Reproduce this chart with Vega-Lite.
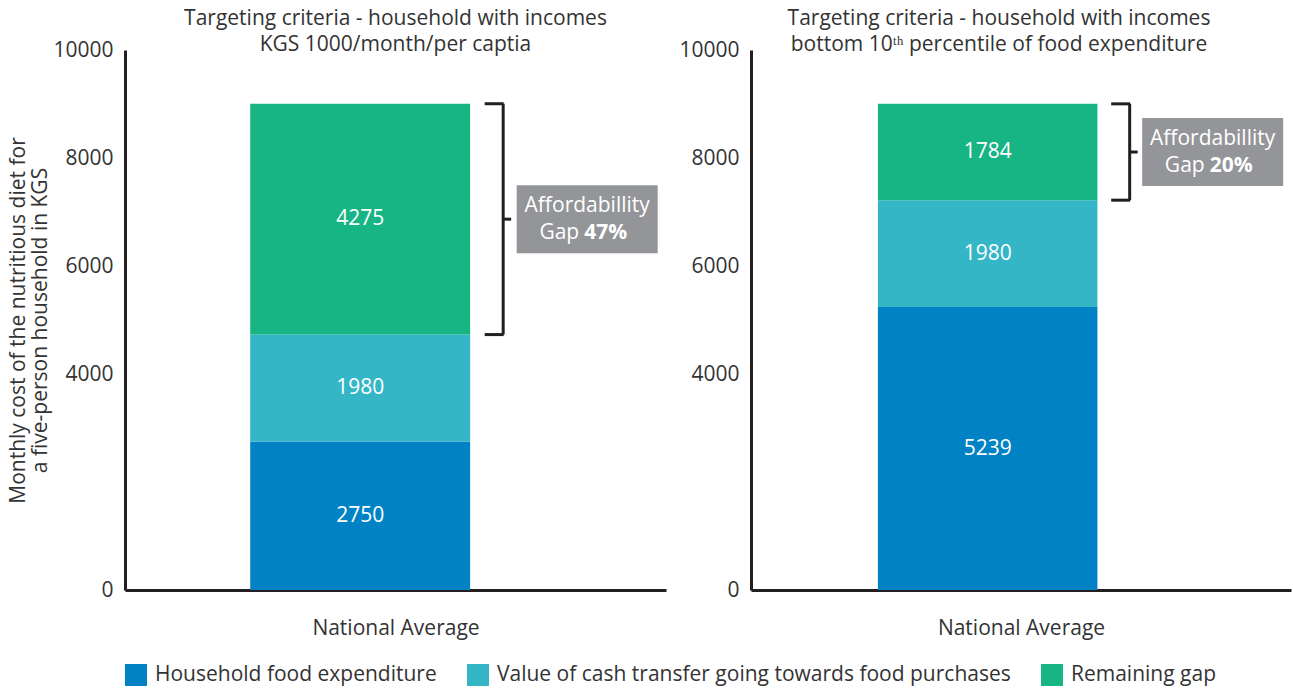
{
  "$schema": "https://vega.github.io/schema/vega-lite/v6.json",
  "padding": {"left": 7, "top": 8, "right": 2, "bottom": 2},
  "background": "white",
  "config": {
    "font": "Open Sans",
    "view": {"stroke": null},
    "axis": {"labelFont": "Open Sans", "titleFont": "Open Sans", "labelColor": "#333333", "titleColor": "#333333", "labelFontSize": 21, "titleFontSize": 21, "titleFontWeight": "normal", "grid": false, "ticks": false, "domainColor": "#231F20", "domainWidth": 3, "format": "d"},
    "title": {"font": "Open Sans", "fontSize": 21, "fontWeight": "normal", "color": "#333333", "lineHeight": 26, "anchor": "middle"},
    "legend": {"labelFont": "Open Sans", "labelFontSize": 21, "labelColor": "#333333", "labelLimit": 0}
  },
  "data": {
    "values": [
      {"panel": "A", "group": "National Average", "category": "Household food expenditure", "ord": 1, "value": 2750, "gap": ""},
      {"panel": "A", "group": "National Average", "category": "Value of cash transfer going towards food purchases", "ord": 2, "value": 1980, "gap": ""},
      {"panel": "A", "group": "National Average", "category": "Remaining gap", "ord": 3, "value": 4275, "gap": "47%"},
      {"panel": "B", "group": "National Average", "category": "Household food expenditure", "ord": 1, "value": 5239, "gap": ""},
      {"panel": "B", "group": "National Average", "category": "Value of cash transfer going towards food purchases", "ord": 2, "value": 1980, "gap": ""},
      {"panel": "B", "group": "National Average", "category": "Remaining gap", "ord": 3, "value": 1784, "gap": "20%"}
    ]
  },
  "spacing": 12,
  "hconcat": [
    {
      "width": 541,
      "height": 540,
      "title": {"text": ["Targeting criteria - household with incomes", "KGS 1000/month/per captia"], "offset": -16},
      "transform": [{"filter": "datum.panel === 'A'"}],
      "encoding": {
        "x": {"field": "group", "type": "nominal", "scale": {"paddingInner": 0, "paddingOuter": 0.73, "align": 0.39}, "axis": {"labels": false, "title": "National Average", "titlePadding": 27}},
        "y": {"field": "value", "type": "quantitative", "stack": "zero", "scale": {"domain": [0, 10000], "nice": false}, "axis": {"values": [0, 4000, 6000, 8000, 10000], "labelPadding": 12, "title": ["Monthly cost of the nutritious diet for", "a five-person household in KGS"], "titleLineHeight": 22, "titlePadding": 2}},
        "order": {"field": "ord", "type": "quantitative"}
      },
      "layer": [
        {"mark": {"type": "bar"}, "encoding": {"color": {"field": "category", "type": "nominal", "scale": {"domain": ["Household food expenditure", "Value of cash transfer going towards food purchases", "Remaining gap"], "range": ["#0082C4", "#34B6C6", "#17B484"]}, "legend": {"orient": "bottom", "direction": "horizontal", "title": null, "symbolType": "square", "symbolSize": 484, "symbolStrokeWidth": 0, "symbolOpacity": 1, "columnPadding": 30, "labelOffset": 8, "offset": 26}}}},
        {"mark": {"type": "text", "color": "white", "fontSize": 21}, "encoding": {"y": {"field": "value", "type": "quantitative", "stack": "zero", "bandPosition": 0.5}, "text": {"field": "value", "type": "quantitative", "format": "d"}}},
        {"transform": [{"stack": "value", "groupby": ["group"], "sort": [{"field": "ord", "order": "ascending"}], "as": ["v0", "v1"]}, {"filter": "datum.category === 'Remaining gap'"}],
         "mark": {"type": "rule", "color": "#231F20", "strokeWidth": 3, "xOffset": 143},
         "encoding": {"y": {"field": "v0", "type": "quantitative"}, "y2": {"field": "v1"}}},
        {"mark": {"type": "tick", "orient": "horizontal", "size": 19, "thickness": 3, "xOffset": 134, "color": "#231F20"}, "encoding": {"y": {"field": "value", "type": "quantitative", "stack": "zero", "bandPosition": 1}, "opacity": {"condition": {"test": "datum.category === 'Remaining gap'", "value": 1}, "value": 0}}},
        {"mark": {"type": "tick", "orient": "horizontal", "size": 19, "thickness": 3, "xOffset": 134, "color": "#231F20"}, "encoding": {"y": {"field": "value", "type": "quantitative", "stack": "zero", "bandPosition": 0}, "opacity": {"condition": {"test": "datum.category === 'Remaining gap'", "value": 1}, "value": 0}}},
        {"mark": {"type": "tick", "orient": "horizontal", "size": 8, "thickness": 3, "xOffset": 147, "color": "#231F20"}, "encoding": {"y": {"field": "value", "type": "quantitative", "stack": "zero", "bandPosition": 0.5}, "opacity": {"condition": {"test": "datum.category === 'Remaining gap'", "value": 1}, "value": 0}}},
        {"mark": {"type": "point", "shape": "M-1,-0.482L1,-0.482L1,0.482L-1,0.482Z", "size": 19881, "filled": true, "color": "#939598", "strokeWidth": 0, "xOffset": 227}, "encoding": {"y": {"field": "value", "type": "quantitative", "stack": "zero", "bandPosition": 0.5}, "opacity": {"condition": {"test": "datum.category === 'Remaining gap'", "value": 1}, "value": 0}}},
        {"mark": {"type": "text", "color": "white", "fontSize": 21, "xOffset": 227, "dy": -13}, "encoding": {"y": {"field": "value", "type": "quantitative", "stack": "zero", "bandPosition": 0.5}, "text": {"value": "Affordabillity"}, "opacity": {"condition": {"test": "datum.category === 'Remaining gap'", "value": 1}, "value": 0}}},
        {"mark": {"type": "text", "color": "white", "fontSize": 21, "align": "right", "xOffset": 219, "dy": 13.5}, "encoding": {"y": {"field": "value", "type": "quantitative", "stack": "zero", "bandPosition": 0.5}, "text": {"value": "Gap"}, "opacity": {"condition": {"test": "datum.category === 'Remaining gap'", "value": 1}, "value": 0}}},
        {"mark": {"type": "text", "color": "white", "fontSize": 21, "fontWeight": "bold", "align": "left", "xOffset": 224, "dy": 13.5}, "encoding": {"y": {"field": "value", "type": "quantitative", "stack": "zero", "bandPosition": 0.5}, "text": {"field": "gap", "type": "nominal"}, "opacity": {"condition": {"test": "datum.category === 'Remaining gap'", "value": 1}, "value": 0}}}
      ]
    },
    {
      "width": 540,
      "height": 540,
      "title": {"text": ["Targeting criteria - household with incomes", "bottom 10ᵗʰ percentile of food expenditure"], "offset": -16, "dx": -22},
      "transform": [{"filter": "datum.panel === 'B'"}],
      "encoding": {
        "x": {"field": "group", "type": "nominal", "scale": {"paddingInner": 0, "paddingOuter": 0.73, "align": 0.396}, "axis": {"labels": false, "title": "National Average", "titlePadding": 27}},
        "y": {"field": "value", "type": "quantitative", "stack": "zero", "scale": {"domain": [0, 10000], "nice": false}, "axis": {"values": [0, 4000, 6000, 8000, 10000], "labelPadding": 12, "title": null}},
        "order": {"field": "ord", "type": "quantitative"}
      },
      "layer": [
        {"mark": {"type": "bar"}, "encoding": {"color": {"field": "category", "type": "nominal", "scale": {"domain": ["Household food expenditure", "Value of cash transfer going towards food purchases", "Remaining gap"], "range": ["#0082C4", "#34B6C6", "#17B484"]}, "legend": {"orient": "bottom", "direction": "horizontal", "title": null, "symbolType": "square", "symbolSize": 484, "symbolStrokeWidth": 0, "symbolOpacity": 1, "columnPadding": 30, "labelOffset": 8, "offset": 26}}}},
        {"mark": {"type": "text", "color": "white", "fontSize": 21}, "encoding": {"y": {"field": "value", "type": "quantitative", "stack": "zero", "bandPosition": 0.5}, "text": {"field": "value", "type": "quantitative", "format": "d"}}},
        {"transform": [{"stack": "value", "groupby": ["group"], "sort": [{"field": "ord", "order": "ascending"}], "as": ["v0", "v1"]}, {"filter": "datum.category === 'Remaining gap'"}],
         "mark": {"type": "rule", "color": "#231F20", "strokeWidth": 3, "xOffset": 142},
         "encoding": {"y": {"field": "v0", "type": "quantitative"}, "y2": {"field": "v1"}}},
        {"mark": {"type": "tick", "orient": "horizontal", "size": 19, "thickness": 3, "xOffset": 133, "color": "#231F20"}, "encoding": {"y": {"field": "value", "type": "quantitative", "stack": "zero", "bandPosition": 1}, "opacity": {"condition": {"test": "datum.category === 'Remaining gap'", "value": 1}, "value": 0}}},
        {"mark": {"type": "tick", "orient": "horizontal", "size": 19, "thickness": 3, "xOffset": 133, "color": "#231F20"}, "encoding": {"y": {"field": "value", "type": "quantitative", "stack": "zero", "bandPosition": 0}, "opacity": {"condition": {"test": "datum.category === 'Remaining gap'", "value": 1}, "value": 0}}},
        {"mark": {"type": "tick", "orient": "horizontal", "size": 8, "thickness": 3, "xOffset": 146, "color": "#231F20"}, "encoding": {"y": {"field": "value", "type": "quantitative", "stack": "zero", "bandPosition": 0.5}, "opacity": {"condition": {"test": "datum.category === 'Remaining gap'", "value": 1}, "value": 0}}},
        {"mark": {"type": "point", "shape": "M-1,-0.482L1,-0.482L1,0.482L-1,0.482Z", "size": 19881, "filled": true, "color": "#939598", "strokeWidth": 0, "xOffset": 225}, "encoding": {"y": {"field": "value", "type": "quantitative", "stack": "zero", "bandPosition": 0.5}, "opacity": {"condition": {"test": "datum.category === 'Remaining gap'", "value": 1}, "value": 0}}},
        {"mark": {"type": "text", "color": "white", "fontSize": 21, "xOffset": 225, "dy": -13}, "encoding": {"y": {"field": "value", "type": "quantitative", "stack": "zero", "bandPosition": 0.5}, "text": {"value": "Affordabillity"}, "opacity": {"condition": {"test": "datum.category === 'Remaining gap'", "value": 1}, "value": 0}}},
        {"mark": {"type": "text", "color": "white", "fontSize": 21, "align": "right", "xOffset": 217, "dy": 13.5}, "encoding": {"y": {"field": "value", "type": "quantitative", "stack": "zero", "bandPosition": 0.5}, "text": {"value": "Gap"}, "opacity": {"condition": {"test": "datum.category === 'Remaining gap'", "value": 1}, "value": 0}}},
        {"mark": {"type": "text", "color": "white", "fontSize": 21, "fontWeight": "bold", "align": "left", "xOffset": 222, "dy": 13.5}, "encoding": {"y": {"field": "value", "type": "quantitative", "stack": "zero", "bandPosition": 0.5}, "text": {"field": "gap", "type": "nominal"}, "opacity": {"condition": {"test": "datum.category === 'Remaining gap'", "value": 1}, "value": 0}}}
      ]
    }
  ]
}
